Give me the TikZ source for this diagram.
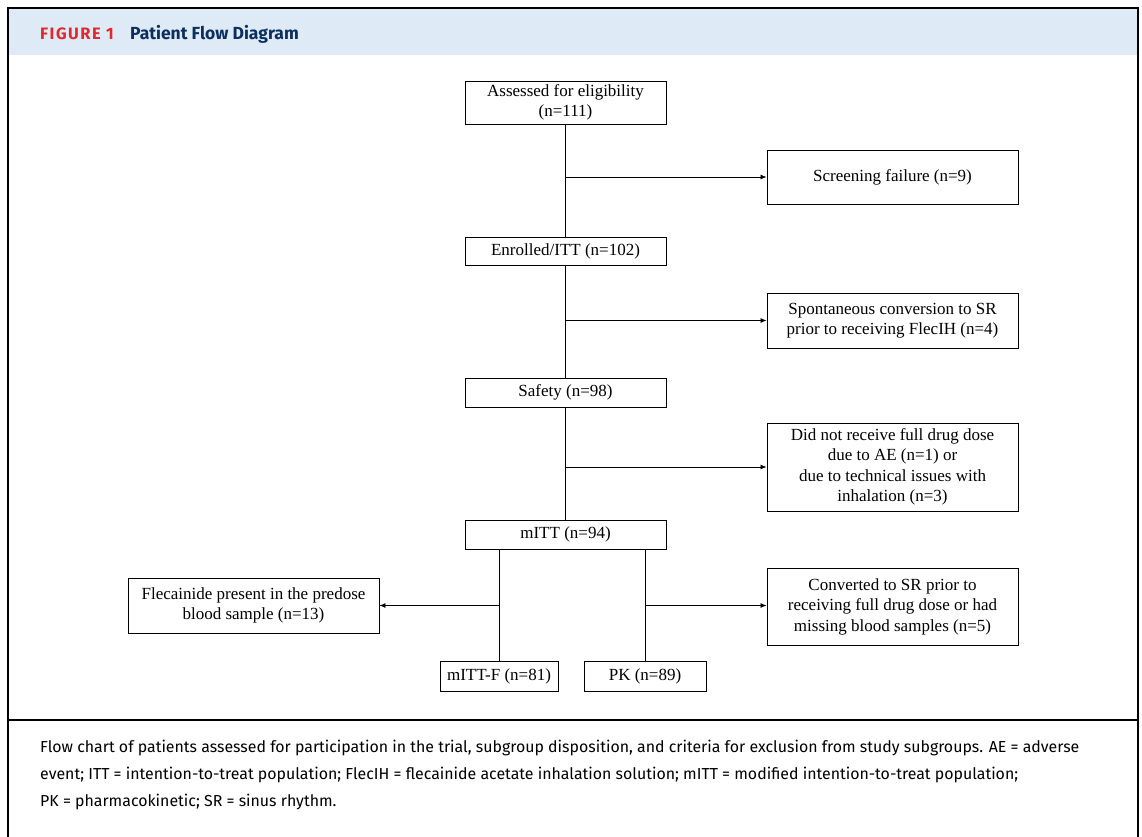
\documentclass[tikz,border=0pt]{standalone}
\usepackage{fontspec}
\setmainfont{Liberation Serif}
\newfontfamily\capfont{Fira Sans}
\newfontfamily\headfont{Fira Sans}
\newfontfamily\figfont[LetterSpace=9]{Fira Sans}
\usetikzlibrary{arrows.meta}
\definecolor{headbg}{HTML}{DEEAF6}
\definecolor{figred}{HTML}{E0282E}
\definecolor{navy}{HTML}{0B2F5E}
\begin{document}
\begin{tikzpicture}[x=1pt,y=-1pt,
  box/.style={draw, line width=0.9pt, align=center, inner sep=0pt,
    font=\fontsize{17}{20.5}\selectfont},
  arr/.style={-{Latex[length=6pt,width=5pt]}, line width=0.8pt},
  ln/.style={line width=0.8pt}]
\useasboundingbox (0,0) rectangle (1142,836);
% header and frame
\fill[headbg] (8,8) rectangle (1138,55);
\draw[line width=2pt] (8,840) -- (8,8) -- (1138,8) -- (1138,840);
\draw[line width=1.5pt] (8,720) -- (1138,720);
\node[anchor=base west, inner sep=0pt, font=\figfont\bfseries\fontsize{16.5}{18}\selectfont, text=figred] (fig) at (40,39) {FIGURE 1};
\node[anchor=base west, inner sep=0pt, font=\headfont\bfseries\fontsize{17.5}{18}\selectfont, text=navy] (title) at (130,39) {Patient Flow Diagram};
% boxes
\node[box, minimum width=201pt, minimum height=43pt] (assess) at (565.5,102.5) {Assessed for eligibility\\(n=111)};
\node[box, minimum width=251pt, minimum height=54pt] (screen) at (892.5,177) {Screening failure (n=9)};
\node[box, minimum width=201pt, minimum height=28pt] (enrol) at (565.5,251) {Enrolled/ITT (n=102)};
\node[box, minimum width=251pt, minimum height=55pt] (spont) at (892.5,320.5) {Spontaneous conversion to SR\\prior to receiving FlecIH (n=4)};
\node[box, minimum width=201pt, minimum height=29pt] (safety) at (565.5,392.5) {Safety (n=98)};
\node[box, minimum width=251pt, minimum height=88pt] (didnot) at (892.5,467) {Did not receive full drug dose\\due to AE (n=1) or\\due to technical issues with\\inhalation (n=3)};
\node[box, minimum width=201pt, minimum height=29pt] (mitt) at (565.5,534.5) {mITT (n=94)};
\node[box, minimum width=251pt, minimum height=55pt] (flec) at (253.5,605.5) {Flecainide present in the predose\\blood sample (n=13)};
\node[box, minimum width=251pt, minimum height=77pt] (conv) at (892.5,606.5) {Converted to SR prior to\\receiving full drug dose or had\\missing blood samples (n=5)};
\node[box, minimum width=118pt, minimum height=30pt] (mittf) at (499,676) {mITT-F (n=81)};
\node[box, minimum width=122pt, minimum height=30pt] (pk) at (645,676) {PK (n=89)};
% connectors
\draw[ln] (assess.south) -- (enrol.north);
\draw[arr] (assess.south |- screen.west) -- (screen.west);
\draw[ln] (enrol.south) -- (safety.north);
\draw[arr] (enrol.south |- spont.west) -- (spont.west);
\draw[ln] (safety.south) -- (mitt.north);
\draw[arr] (safety.south |- didnot.west) -- (didnot.west);
\draw[ln] (mittf.north |- mitt.south) -- (mittf.north);
\draw[ln] (pk.north |- mitt.south) -- (pk.north);
\draw[arr] (mittf.north |- flec.east) -- (flec.east);
\draw[arr] (pk.north |- flec.east) -- (conv.west |- flec.east);
% caption
\node[anchor=north west, inner sep=0pt, align=left, font=\capfont\fontsize{15.9}{27}\selectfont] (cap) at (40,740) {Flow chart of patients assessed for participation in the trial, subgroup disposition, and criteria for exclusion from study subgroups. AE = adverse\\event; ITT = intention-to-treat population; FlecIH = flecainide acetate inhalation solution; mITT = modified intention-to-treat population;\\PK = pharmacokinetic; SR = sinus rhythm.};
\end{tikzpicture}
\end{document}
